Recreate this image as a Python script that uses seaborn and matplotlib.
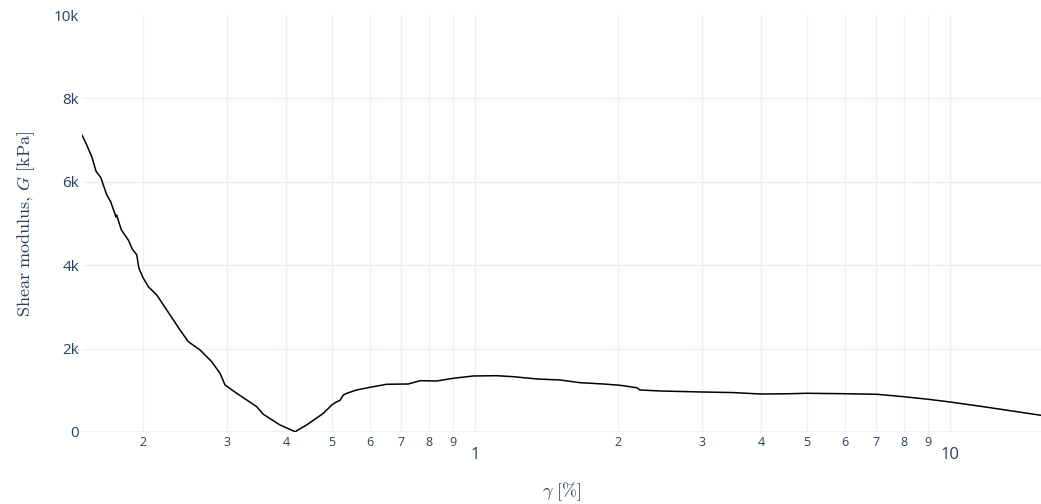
import matplotlib.pyplot as plt
import numpy as np
import pandas as pd
import seaborn as sns

# ----- data
gamma = [0.1488, 0.1520, 0.1560, 0.1593, 0.1630, 0.1677, 0.1710, 0.1754,
         0.1760, 0.1800, 0.1863, 0.1900, 0.1940, 0.1960, 0.2000, 0.2052,
         0.2138, 0.2280, 0.2393, 0.2491, 0.2637, 0.2790, 0.2905, 0.2976,
         0.3149, 0.3470, 0.3583, 0.3885, 0.4180, 0.4420, 0.4794, 0.4993,
         0.5074, 0.5197, 0.5281, 0.5370, 0.5631, 0.6009, 0.6517, 0.7237,
         0.7661, 0.8307, 0.9000, 0.992, 1.111, 1.204, 1.349, 1.510, 1.664,
         1.862, 2.020, 2.190, 2.226, 2.452, 3.001, 3.500, 3.981, 4.500,
         4.992, 5.962, 7.012, 7.973, 9.00, 10.0, 11.75, 15.54]
G = [7120, 6900, 6600, 6250, 6100, 5690, 5520, 5160,
     5200, 4850, 4600, 4380, 4250, 3930, 3700, 3485,
     3285, 2806, 2446, 2165, 1966, 1686, 1406, 1127,
     928, 607, 424, 168, 7, 168, 448, 647,
     703, 760, 887, 928, 1007, 1072, 1144, 1151,
     1230, 1223, 1288, 1343, 1350, 1326, 1271, 1247, 1182,
     1151, 1120, 1062, 1007, 983, 959, 945, 911, 915,
     928, 918, 904, 847, 784, 719, 607, 400]

y_ticks = [0, 2000, 4000, 6000, 8000, 10000]
y_labels = ["0", "2k", "4k", "6k", "8k", "10k"]
minor_ticks = [0.2, 0.3, 0.4, 0.5, 0.6, 0.7, 0.8, 0.9,
               2, 3, 4, 5, 6, 7, 8, 9]
minor_labels = ["2", "3", "4", "5", "6", "7", "8", "9",
                "2", "3", "4", "5", "6", "7", "8", "9"]
major_ticks = [1, 10]
major_labels = ["1", "10"]

# ----- plot
sns.set_theme(style="white")
plt.rcParams['font.family'] = ['Open Sans', 'DejaVu Sans']
plt.rcParams['mathtext.fontset'] = 'cm'

txt = "#2a3f5f"
grid = "#ebf0f8"

fig = plt.figure(figsize=(10.41, 5.04), dpi=100)
ax = fig.add_axes([0.0788, 0.1429, 0.9212, 0.8273])

data = pd.DataFrame({"gamma": gamma, "G": G})
sns.lineplot(data=data, x="gamma", y="G", sort=False, color="black",
             linewidth=1.1, ax=ax)

ax.set_xscale("log")
ax.set_xlim(0.1488, 15.54)
ax.set_ylim(0, 10000)

ax.set_xticks(major_ticks)
ax.set_xticklabels(major_labels)
ax.set_xticks(minor_ticks, minor=True)
ax.set_xticklabels(minor_labels, minor=True)
ax.set_yticks(y_ticks)
ax.set_yticklabels(y_labels)

ax.tick_params(axis="x", which="major", length=0, pad=11, labelsize=12, colors=txt)
ax.tick_params(axis="x", which="minor", length=0, pad=3, labelsize=9, colors=txt)
ax.tick_params(axis="y", length=0, pad=2, labelsize=11, colors=txt)

ax.grid(True, which="both", axis="x", color=grid, linewidth=1)
ax.grid(True, which="major", axis="y", color=grid, linewidth=1)
ax.get_ygridlines()[-1].set_visible(False)
ax.axhline(0, color=grid, linewidth=2, zorder=0)

for s in ax.spines.values():
    s.set_visible(False)

ax.set_xlabel(r"$\gamma\ [\%]$", fontsize=13, color=txt, labelpad=12)
ax.set_ylabel(r"$\mathrm{Shear\ modulus,}\,G\ \mathrm{[kPa]}$", fontsize=13,
              color=txt, labelpad=12)

fig.savefig("out.png", dpi=100)
